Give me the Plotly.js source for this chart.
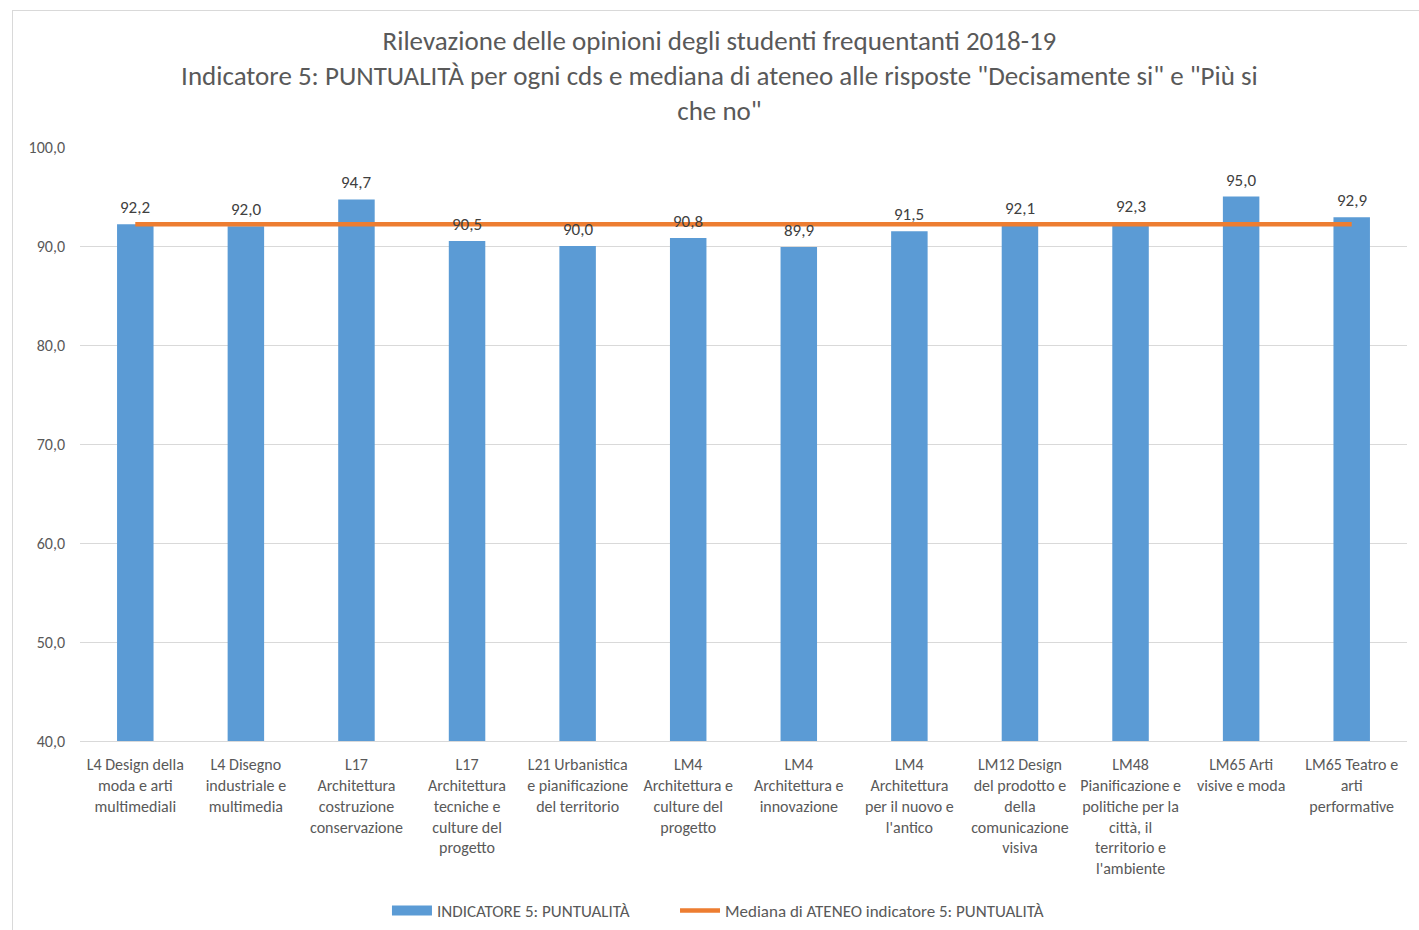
<!DOCTYPE html>
<html><head><meta charset="utf-8">
<script src="https://cdn.plot.ly/plotly-3.0.1.min.js"></script>
<style>
html,body{margin:0;padding:0;background:#fff;overflow:hidden;}
#frame{position:absolute;left:12px;top:10px;width:1420px;height:930px;border-left:1px solid #d9d9d9;border-top:1px solid #d9d9d9;pointer-events:none;z-index:10;}
#chart{width:1419px;height:930px;}
</style></head>
<body>
<div id="frame"></div>
<div id="chart"></div>
<script>
const categories = [
  "L4 Design della<br>moda e arti<br>multimediali",
  "L4 Disegno<br>industriale e<br>multimedia",
  "L17<br>Architettura<br>costruzione<br>conservazione",
  "L17<br>Architettura<br>tecniche e<br>culture del<br>progetto",
  "L21 Urbanistica<br>e pianificazione<br>del territorio",
  "LM4<br>Architettura e<br>culture del<br>progetto",
  "LM4<br>Architettura e<br>innovazione",
  "LM4<br>Architettura<br>per il nuovo e<br>l'antico",
  "LM12 Design<br>del prodotto e<br>della<br>comunicazione<br>visiva",
  "LM48<br>Pianificazione e<br>politiche per la<br>città, il<br>territorio e<br>l'ambiente",
  "LM65 Arti<br>visive e moda",
  "LM65 Teatro e<br>arti<br>performative"
];
const indicatore = [92.2, 92.0, 94.7, 90.5, 90.0, 90.8, 89.9, 91.5, 92.1, 92.3, 95.0, 92.9];
const mediana = [92.2, 92.2, 92.2, 92.2, 92.2, 92.2, 92.2, 92.2, 92.2, 92.2, 92.2, 92.2];
const yTicks = [40, 50, 60, 70, 80, 90, 100];
const barName = 'INDICATORE 5: PUNTUALITÀ';
const lineName = 'Mediana di ATENEO indicatore 5: PUNTUALITÀ';

const FONT = "Carlito, 'Liberation Sans Narrow', Lato, 'Open Sans', sans-serif";
const idx = categories.map((c, i) => i);
const BLUE = '#5B9BD5', ORANGE = '#ED7D31';

const traces = [
  {
    type: 'bar', x: idx, y: indicatore, name: barName, showlegend: false,
    marker: {color: BLUE}, hoverinfo: 'y'
  },
  {
    // legend entry for the bar series (wide rectangle swatch)
    type: 'scatter', mode: 'lines', x: [null], y: [null], name: barName,
    line: {color: BLUE, width: 10}, hoverinfo: 'skip', legend: 'legend'
  },
  {
    type: 'scatter', mode: 'lines', x: idx, y: mediana, name: lineName,
    line: {color: ORANGE, width: 4.5}, legend: 'legend2'
  }
];

const labelAnnotations = indicatore.map((v, i) => ({
  x: idx[i], y: v, xref: 'x', yref: 'y',
  text: v.toFixed(1).replace('.', ','),
  showarrow: false, yanchor: 'bottom', yshift: 4,
  font: {size: 17, color: '#404040', family: FONT}
}));

const legendCommon = {
  orientation: 'h', xref: 'container', yref: 'container',
  xanchor: 'left', y: 0.0205, yanchor: 'middle',
  font: {size: 17, color: '#595959', family: FONT},
  itemwidth: 40, bgcolor: 'rgba(0,0,0,0)'
};

const layout = {
  width: 1419, height: 930,
  paper_bgcolor: '#fff', plot_bgcolor: '#fff',
  separators: ',.',
  font: {family: FONT, color: '#595959', size: 16},
  margin: {l: 80, r: 12, t: 147, b: 189},
  title: {
    text: 'Rilevazione delle opinioni degli studenti frequentanti 2018-19<br>Indicatore 5: PUNTUALITÀ per ogni cds e mediana di ateneo alle risposte "Decisamente si" e "Più si<br>che no"',
    font: {size: 27, color: '#595959', family: FONT},
    x: 0.507, xanchor: 'center', y: 0.946, yanchor: 'top'
  },
  bargap: 0.67,
  xaxis: {
    tickmode: 'array', tickvals: idx, ticktext: categories,
    range: [-0.5, categories.length - 0.5],
    showgrid: false, showline: true, linecolor: '#d9d9d9', linewidth: 1,
    ticks: 'outside', ticklen: 9, tickcolor: 'rgba(0,0,0,0)',
    tickfont: {size: 16, color: '#595959', family: FONT},
    tickangle: 0, automargin: false, fixedrange: true
  },
  yaxis: {
    range: [40, 100], tickvals: yTicks, tickformat: '.1f',
    showgrid: true, gridcolor: '#d9d9d9', gridwidth: 1,
    zeroline: false, showline: false, ticks: '',
    tickfont: {size: 16, color: '#595959', family: FONT},
    ticklabelstandoff: 14, automargin: false, fixedrange: true
  },
  annotations: labelAnnotations,
  showlegend: true,
  legend: Object.assign({}, legendCommon, {x: 0.2727}),
  legend2: Object.assign({}, legendCommon, {x: 0.4757})
};

Plotly.newPlot('chart', traces, layout, {displayModeBar: false, responsive: false});
</script>
</body></html>
